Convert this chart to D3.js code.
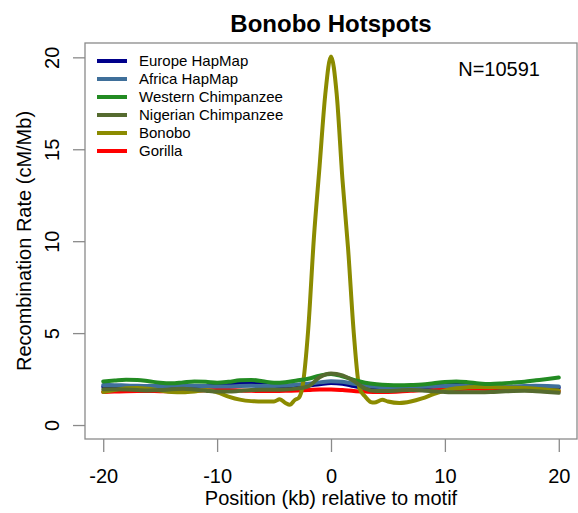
<!DOCTYPE html>
<html>
  <head>
  <script src="https://cdnjs.cloudflare.com/ajax/libs/d3/7.8.5/d3.min.js"></script>
    <meta charset="utf-8">
    <title>Bonobo Hotspots</title>
    <style>
      body { margin: 0; background: #fff; }
      text { font-family: "Liberation Sans", Arial, sans-serif; fill: #000; }
    </style>
  </head>
  <body>
    <script>
      // positions (kb) relative to motif
      var positions = [-20, -19, -18, -17, -16, -15, -14, -13, -12, -11, -10, -9, -8, -7, -6, -5, -4, -3, -2, -1,
                       0, 1, 2, 3, 4, 5, 6, 7, 8, 9, 10, 11, 12, 13, 14, 15, 16, 17, 18, 19, 20];
      var europe = [2.08, 2.06, 2.04, 2.03, 2.03, 2.04, 2.06, 2.08, 2.1, 2.12, 2.16, 2.22, 2.28, 2.3, 2.25, 2.15, 2.08, 2.1, 2.15, 2.22,
                    2.28, 2.25, 2.12, 2.02, 1.98, 1.97, 1.98, 2.0, 2.05, 2.12, 2.2, 2.24, 2.22, 2.15, 2.08, 2.05, 2.04, 2.05, 2.06, 2.05, 2.03];
      var africa = [2.18, 2.17, 2.15, 2.13, 2.12, 2.12, 2.13, 2.14, 2.14, 2.12, 2.1, 2.1, 2.12, 2.13, 2.12, 2.12, 2.15, 2.2, 2.25, 2.32,
                    2.38, 2.35, 2.25, 2.15, 2.08, 2.05, 2.05, 2.06, 2.08, 2.1, 2.12, 2.13, 2.12, 2.1, 2.08, 2.08, 2.1, 2.12, 2.13, 2.12, 2.1];
      var western = [2.37, 2.42, 2.46, 2.45, 2.38, 2.3, 2.27, 2.32, 2.37, 2.35, 2.3, 2.35, 2.43, 2.45, 2.38, 2.3, 2.33, 2.42, 2.52, 2.68,
                     2.78, 2.65, 2.45, 2.3, 2.22, 2.18, 2.17, 2.18, 2.2, 2.27, 2.34, 2.37, 2.33, 2.26, 2.23, 2.26, 2.31, 2.36, 2.43, 2.5, 2.58];
      var nigerian = [1.95, 1.95, 1.93, 1.9, 1.88, 1.9, 1.95, 1.97, 1.93, 1.87, 1.82, 1.82, 1.86, 1.9, 1.92, 1.92, 1.93, 1.98, 2.1, 2.6,
                      2.8, 2.7, 2.4, 1.98, 1.85, 1.85, 1.88, 1.9, 1.88, 1.84, 1.8, 1.78, 1.78, 1.78, 1.79, 1.82, 1.85, 1.86, 1.84, 1.8, 1.75];
      var gorilla = [1.8, 1.82, 1.84, 1.85, 1.85, 1.84, 1.84, 1.85, 1.87, 1.89, 1.9, 1.9, 1.88, 1.86, 1.85, 1.85, 1.86, 1.88, 1.9, 1.93,
                     1.93, 1.9, 1.85, 1.82, 1.8, 1.8, 1.82, 1.86, 1.9, 1.93, 1.95, 1.96, 1.97, 1.97, 1.96, 1.94, 1.92, 1.9, 1.88, 1.86, 1.84];

      // bonobo is sampled more finely around the peak
      var bonoboPositions = [-20, -19, -18, -17, -16, -15, -14, -13, -12, -11, -10, -9, -8, -7, -6, -5, -4.5, -4, -3.6, -3.2, -2.8,
                             -2.5, -2, -1.5, -1, -0.5, 0, 0.5, 1, 1.5, 2, 2.5, 3, 3.5, 3.8, 4.5, 5, 6, 7, 8, 9, 10,
                             11, 12, 13, 14, 15, 16, 17, 18, 19, 20];
      var bonobo = [1.8, 1.9, 2.0, 2.02, 1.97, 1.88, 1.8, 1.78, 1.82, 1.9, 1.78, 1.55, 1.38, 1.3, 1.28, 1.28, 1.4, 1.2, 1.1, 1.35, 1.5,
                    2.1, 5.2, 10.2, 14.1, 18.0, 20.05, 18.0, 13.4, 9.6, 5.0, 2.0, 1.55, 1.25, 1.22, 1.37, 1.28, 1.2, 1.28, 1.45, 1.68, 1.88,
                    2.0, 2.05, 2.07, 2.06, 2.04, 2.03, 2.02, 1.98, 1.92, 1.88];

      var seriesNames = ["Europe HapMap", "Africa HapMap", "Western Chimpanzee", "Nigerian Chimpanzee", "Bonobo", "Gorilla"];
      var seriesColors = ["#00008b", "#3f6f9a", "#228b22", "#556b2f", "#8b8b00", "#ff0000"];
      var xTicks = [-20, -10, 0, 10, 20];
      var yTicks = [0, 5, 10, 15, 20];

      var series = [
        { name: seriesNames[0], color: seriesColors[0], x: positions, y: europe },
        { name: seriesNames[1], color: seriesColors[1], x: positions, y: africa },
        { name: seriesNames[2], color: seriesColors[2], x: positions, y: western },
        { name: seriesNames[3], color: seriesColors[3], x: positions, y: nigerian },
        { name: seriesNames[4], color: seriesColors[4], x: bonoboPositions, y: bonobo },
        { name: seriesNames[5], color: seriesColors[5], x: positions, y: gorilla }
      ];
      // drawing order (gorilla underneath)
      var drawOrder = [5, 0, 1, 4, 2, 3];

      var W = 578, H = 513;
      var box = { left: 85, right: 577, top: 43, bottom: 439 };

      var svg = d3.select("body").append("svg")
                  .attr("width", W)
                  .attr("height", H);

      var x = d3.scaleLinear().domain([-21.6, 21.6]).range([box.left, box.right]);
      var y = d3.scaleLinear().domain([-0.76, 20.78]).range([box.bottom, box.top]);

      var line = d3.line()
                   .x(function (d) { return x(d[0]); })
                   .y(function (d) { return y(d[1]); })
                   .curve(d3.curveMonotoneX);

      var plot = svg.append("g");
      drawOrder.forEach(function (i) {
        var s = series[i];
        var pts = s.x.map(function (v, j) { return [v, s.y[j]]; });
        plot.append("path")
            .attr("d", line(pts))
            .attr("fill", "none")
            .attr("stroke", s.color)
            .attr("stroke-width", 4)
            .attr("stroke-linejoin", "round")
            .attr("stroke-linecap", "round");
      });

      // frame
      svg.append("rect")
         .attr("x", box.left).attr("y", box.top)
         .attr("width", box.right - box.left).attr("height", box.bottom - box.top)
         .attr("fill", "none").attr("stroke", "#8a8a8a").attr("stroke-width", 1.3);

      // x axis
      var xAxis = svg.append("g")
                     .attr("transform", "translate(0," + box.bottom + ")")
                     .call(d3.axisBottom(x).tickValues(xTicks).tickSize(13).tickSizeOuter(0).tickFormat(d3.format("d")));
      xAxis.select(".domain").remove();
      xAxis.selectAll("line").attr("stroke", "#8a8a8a").attr("stroke-width", 1.3);
      xAxis.selectAll("text")
           .attr("y", 44).attr("dy", null)
           .style("font-size", "20px")
           .attr("fill", "#000")
           .text(function (d) { return d < 0 ? "-" + Math.abs(d) : d; });

      // y axis
      var yAxis = svg.append("g")
                     .attr("transform", "translate(" + box.left + ",0)")
                     .call(d3.axisLeft(y).tickValues(yTicks).tickSize(12).tickSizeOuter(0));
      yAxis.select(".domain").remove();
      yAxis.selectAll("line").attr("stroke", "#8a8a8a").attr("stroke-width", 1.3);
      yAxis.selectAll("text")
           .attr("x", null).attr("dy", null)
           .attr("transform", "translate(-26,0) rotate(-90)")
           .attr("text-anchor", "middle")
           .style("font-size", "20px")
           .attr("fill", "#000");

      // titles
      svg.append("text")
         .attr("x", 331).attr("y", 32)
         .attr("text-anchor", "middle")
         .style("font-size", "24px").style("font-weight", "bold")
         .text("Bonobo Hotspots");
      svg.append("text")
         .attr("x", 331).attr("y", 505)
         .attr("text-anchor", "middle")
         .style("font-size", "20px")
         .text("Position (kb) relative to motif");
      svg.append("text")
         .attr("transform", "translate(31," + ((box.top + box.bottom) / 2) + ") rotate(-90)")
         .attr("text-anchor", "middle")
         .style("font-size", "20px")
         .text("Recombination Rate (cM/Mb)");

      svg.append("text")
         .attr("x", 540).attr("y", 76)
         .attr("text-anchor", "end")
         .style("font-size", "20px")
         .text("N=10591");

      // legend
      var legend = svg.append("g");
      series.forEach(function (s, i) {
        var ly = 61 + i * 18;
        legend.append("line")
              .attr("x1", 97).attr("x2", 127)
              .attr("y1", ly).attr("y2", ly)
              .attr("stroke", s.color).attr("stroke-width", 4);
        legend.append("text")
              .attr("x", 139).attr("y", ly + 5)
              .style("font-size", "15px")
              .text(s.name);
      });
    </script>
  </body>
</html>
